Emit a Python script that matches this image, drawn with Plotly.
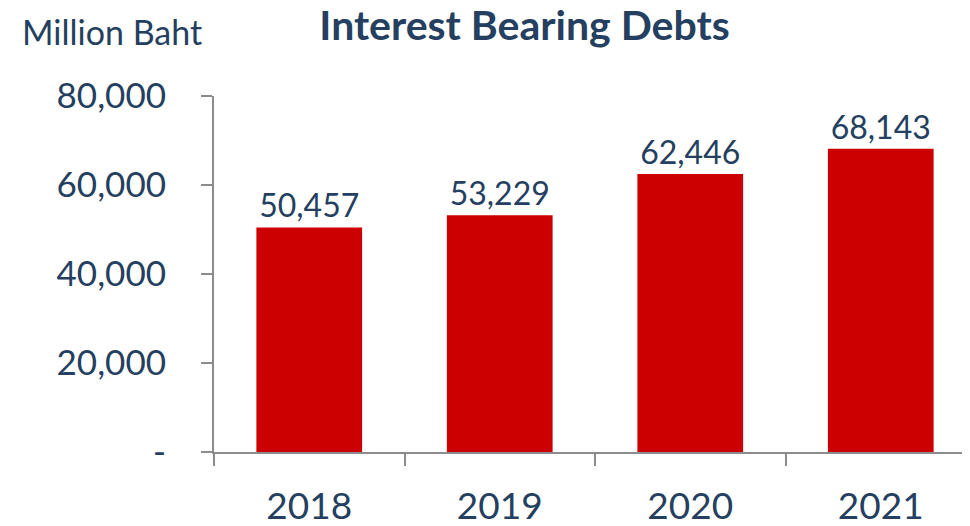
import plotly.graph_objects as go

years = ["2018", "2019", "2020", "2021"]
debts = [50457, 53229, 62446, 68143]
y_tick_vals = [0, 20000, 40000, 60000, 80000]
y_tick_text = ["-", "20,000", "40,000", "60,000", "80,000"]
labels = [f"{v:,}" for v in debts]

text_color = "#243F60"
axis_color = "#8C8C8C"
font_family = "Lato, Carlito, Calibri, sans-serif"

fig = go.Figure(
    go.Bar(
        x=years,
        y=debts,
        text=labels,
        textposition="outside",
        textfont=dict(size=32, color=text_color, family=font_family),
        marker=dict(color="#CC0000", line=dict(width=0)),
        cliponaxis=False,
    )
)

fig.update_layout(
    width=970,
    height=526,
    margin=dict(l=206, r=2, t=88, b=82, autoexpand=False),
    paper_bgcolor="white",
    plot_bgcolor="white",
    bargap=0.445,
    showlegend=False,
    font=dict(family=font_family, color=text_color),
    title=dict(
        text="<b>Interest Bearing Debts</b>",
        x=0.5325,
        xanchor="center",
        y=0.966,
        yanchor="middle",
        automargin=False,
        font=dict(size=41, color=text_color, family=font_family),
    ),
    annotations=[
        dict(
            text="Million Baht",
            xref="paper",
            yref="paper",
            x=-0.2546,
            y=1.18,
            xanchor="left",
            yanchor="middle",
            showarrow=False,
            font=dict(size=34, color=text_color, family=font_family),
        )
    ],
)

fig.update_xaxes(
    range=[-0.5, 3.5],
    automargin=False,
    showline=True,
    linecolor=axis_color,
    linewidth=2,
    ticks="outside",
    tickson="boundaries",
    ticklen=12,
    tickwidth=2,
    tickcolor=axis_color,
    tickfont=dict(size=37, color=text_color, family=font_family),
    ticklabelstandoff=21,
    showgrid=False,
    zeroline=False,
)

fig.update_yaxes(
    range=[0, 80000],
    automargin=False,
    tickvals=y_tick_vals,
    ticktext=y_tick_text,
    showline=True,
    linecolor=axis_color,
    linewidth=2,
    ticks="outside",
    ticklen=11,
    tickwidth=2,
    tickcolor=axis_color,
    tickfont=dict(size=35, color=text_color, family=font_family),
    ticklabelstandoff=28,
    showgrid=False,
    zeroline=False,
)

fig.write_html("out.html")
